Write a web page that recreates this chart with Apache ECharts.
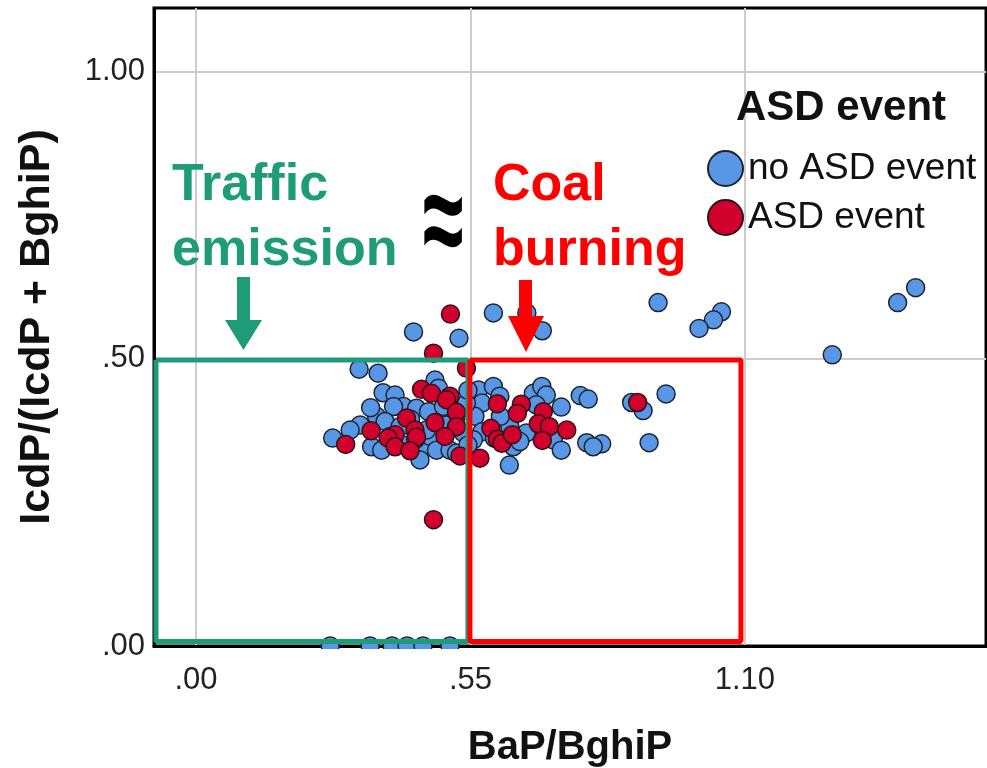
<!DOCTYPE html>
<html>
<head>
<meta charset="utf-8">
<script src="https://cdn.jsdelivr.net/npm/echarts@6/dist/echarts.min.js"></script>
<style>
  html, body { margin: 0; padding: 0; background: #fff; }
  #chart { width: 987px; height: 768px; }
</style>
</head>
<body>
<div id="chart"></div>
<script>
// BaP/BghiP vs IcdP/(IcdP+BghiP)
var noAsd = [
  [0.926, 0.598], [1.053, 0.582], [1.037, 0.568], [1.008, 0.553], [1.442, 0.624], [1.406, 0.598], [1.275, 0.507],
  [0.942, 0.439], [0.873, 0.424], [0.896, 0.410], [0.908, 0.354],
  [0.783, 0.354], [0.813, 0.352], [0.796, 0.347], [0.770, 0.436], [0.786, 0.430],
  [0.436, 0.547], [0.527, 0.536], [0.596, 0.580], [0.663, 0.580], [0.694, 0.549],
  [0.327, 0.482], [0.365, 0.475], [0.628, 0.315],
  [0.566, 0.446], [0.596, 0.452], [0.609, 0.435], [0.573, 0.423], [0.559, 0.400], [0.573, 0.373], [0.556, 0.359],
  [0.629, 0.382], [0.636, 0.347], [0.676, 0.440], [0.693, 0.452], [0.702, 0.437], [0.682, 0.420], [0.732, 0.416],
  [0.662, 0.371], [0.716, 0.359], [0.732, 0.341], [0.649, 0.356],
  [0.375, 0.441], [0.399, 0.437], [0.479, 0.463], [0.486, 0.449], [0.416, 0.417], [0.396, 0.417], [0.442, 0.414],
  [0.466, 0.408], [0.496, 0.417], [0.362, 0.400], [0.379, 0.391], [0.329, 0.385], [0.309, 0.376], [0.274, 0.362],
  [0.352, 0.347], [0.372, 0.341], [0.416, 0.350], [0.456, 0.347], [0.469, 0.365], [0.449, 0.324], [0.482, 0.341],
  [0.509, 0.341], [0.522, 0.336], [0.409, 0.382], [0.462, 0.376], [0.536, 0.371], [0.542, 0.423], [0.389, 0.365],
  [0.430, 0.395], [0.350, 0.415], [0.520, 0.395], [0.545, 0.445], [0.610, 0.400], [0.598, 0.362], [0.545, 0.350],
  [0.502, 0.385], [0.440, 0.360],
  [0.269, 0], [0.349, 0], [0.393, 0], [0.423, 0], [0.455, 0], [0.509, 0]
];
var asd = [
  [0.510, 0.578], [0.476, 0.510], [0.542, 0.484], [0.476, 0.220], [0.300, 0.351], [0.885, 0.424],
  [0.604, 0.422], [0.652, 0.421], [0.644, 0.405], [0.696, 0.408], [0.686, 0.387], [0.708, 0.382], [0.743, 0.376],
  [0.694, 0.358], [0.591, 0.379], [0.604, 0.360], [0.613, 0.353], [0.634, 0.368], [0.569, 0.327],
  [0.452, 0.447], [0.472, 0.440], [0.509, 0.435], [0.502, 0.429], [0.522, 0.407], [0.422, 0.397], [0.479, 0.389],
  [0.522, 0.382], [0.351, 0.375], [0.439, 0.376], [0.442, 0.364], [0.399, 0.368], [0.385, 0.362], [0.499, 0.365],
  [0.399, 0.347], [0.429, 0.340], [0.529, 0.331]
];
var xTicks = [0, 0.55, 1.10];
var yTicks = [0, 0.50, 1.00];
// boxes: [xMin, xMax, yMin, yMax]
var trafficBox = [-0.080, 0.545, 0.008, 0.498];
var coalBox = [0.549, 1.092, 0.008, 0.498];

function boxPath (b) {
  return [[b[0], b[3]], [b[1], b[3]], [b[1], b[2]], [b[0], b[2]], [b[0], b[3]]];
}
function spssFmt (v) {
  return v.toFixed(2).replace(/^0\./, '.');
}

var green = '#1e9c78';
var red = '#ff0000';
var font = 'Liberation Sans, Arial, sans-serif';

var chart = echarts.init(document.getElementById('chart'));
var option = {
  animation: false,
  textStyle: { fontFamily: font },
  grid: {
    left: 154, top: 8, right: 1, bottom: 122,
    outerBoundsMode: 'none',
    containLabel: false,
    show: true, borderColor: '#000', borderWidth: 3
  },
  title: {
    text: 'ASD event',
    left: 736, top: 87, padding: 0,
    textStyle: { fontSize: 42, fontWeight: 'bold', color: '#111', fontFamily: font }
  },
  legend: {
    data: ['no ASD event', 'ASD event'],
    orient: 'vertical',
    left: 707, top: 150, padding: 0,
    itemWidth: 35, itemHeight: 35, itemGap: 12,
    icon: 'circle',
    textStyle: { fontSize: 37, color: '#111', fontFamily: font }
  },
  xAxis: {
    type: 'value',
    min: -0.084, max: 1.583,
    name: 'BaP/BghiP',
    nameLocation: 'middle',
    nameGap: 82,
    nameMoveOverlap: false,
    nameTextStyle: { fontSize: 40, fontWeight: 'bold', color: '#111' },
    axisLine: { show: true, onZero: false, lineStyle: { color: '#000', width: 3 } },
    axisTick: { show: false, customValues: xTicks },
    axisLabel: { customValues: xTicks, fontSize: 31, color: '#222', margin: 19, formatter: spssFmt },
    splitLine: { show: true, lineStyle: { color: '#cccccc', width: 2 } }
  },
  yAxis: {
    type: 'value',
    min: 0, max: 1.111,
    name: 'IcdP/(IcdP + BghiP)',
    nameLocation: 'middle',
    nameGap: 95,
    nameMoveOverlap: false,
    nameTextStyle: { fontSize: 43, fontWeight: 'bold', color: '#111' },
    axisLine: { show: true, onZero: false, lineStyle: { color: '#000', width: 3 } },
    axisTick: { show: false, customValues: yTicks },
    axisLabel: { customValues: yTicks, fontSize: 31, color: '#222', margin: 9, formatter: spssFmt },
    splitLine: { show: true, lineStyle: { color: '#cccccc', width: 2 } }
  },
  series: [
    {
      name: 'no ASD event',
      type: 'scatter',
      data: noAsd,
      symbolSize: 18,
      itemStyle: { color: '#5897e6', borderColor: '#1c2430', borderWidth: 1.5, opacity: 1 },
      z: 2
    },
    {
      name: 'ASD event',
      type: 'scatter',
      data: asd,
      symbolSize: 18,
      itemStyle: { color: '#d2002d', borderColor: '#2a1418', borderWidth: 1.5, opacity: 1 },
      z: 3
    },
    {
      name: 'traffic box',
      type: 'line',
      data: boxPath(trafficBox),
      symbol: 'none',
      silent: true,
      lineStyle: { color: green, width: 5 },
      z: 10
    },
    {
      name: 'coal box',
      type: 'line',
      data: boxPath(coalBox),
      symbol: 'none',
      silent: true,
      lineStyle: { color: red, width: 5 },
      z: 11
    }
  ],
  graphic: [
    // hide marker halves that fall under the x axis
    { type: 'rect', z: 100, shape: { x: 150, y: 649, width: 840, height: 12 }, style: { fill: '#fff' } },
    { type: 'text', z: 110, x: 172, y: 186, style: { text: 'Traffic', font: 'bold 52px ' + font, fill: green, verticalAlign: 'middle' } },
    { type: 'text', z: 110, x: 172, y: 251, style: { text: 'emission', font: 'bold 52px ' + font, fill: green, verticalAlign: 'middle' } },
    { type: 'text', z: 110, x: 493, y: 186, style: { text: 'Coal', font: 'bold 52px ' + font, fill: red, verticalAlign: 'middle' } },
    { type: 'text', z: 110, x: 493, y: 251, style: { text: 'burning', font: 'bold 52px ' + font, fill: red, verticalAlign: 'middle' } },
    { type: 'text', z: 110, x: 443, y: 228, scaleY: 1.8, style: { text: '≈', font: 'bold 74px ' + font, fill: '#000', align: 'center', verticalAlign: 'middle' } },
    // arrows
    { type: 'rect', z: 110, shape: { x: 237, y: 277, width: 13, height: 45 }, style: { fill: green } },
    { type: 'polygon', z: 110, shape: { points: [[225, 320], [262, 320], [243.5, 350]] }, style: { fill: green } },
    { type: 'rect', z: 110, shape: { x: 519, y: 280, width: 13, height: 38 }, style: { fill: red } },
    { type: 'polygon', z: 110, shape: { points: [[508, 316], [544, 316], [526, 352]] }, style: { fill: red } }
  ]
};
chart.setOption(option);
</script>
</body>
</html>
